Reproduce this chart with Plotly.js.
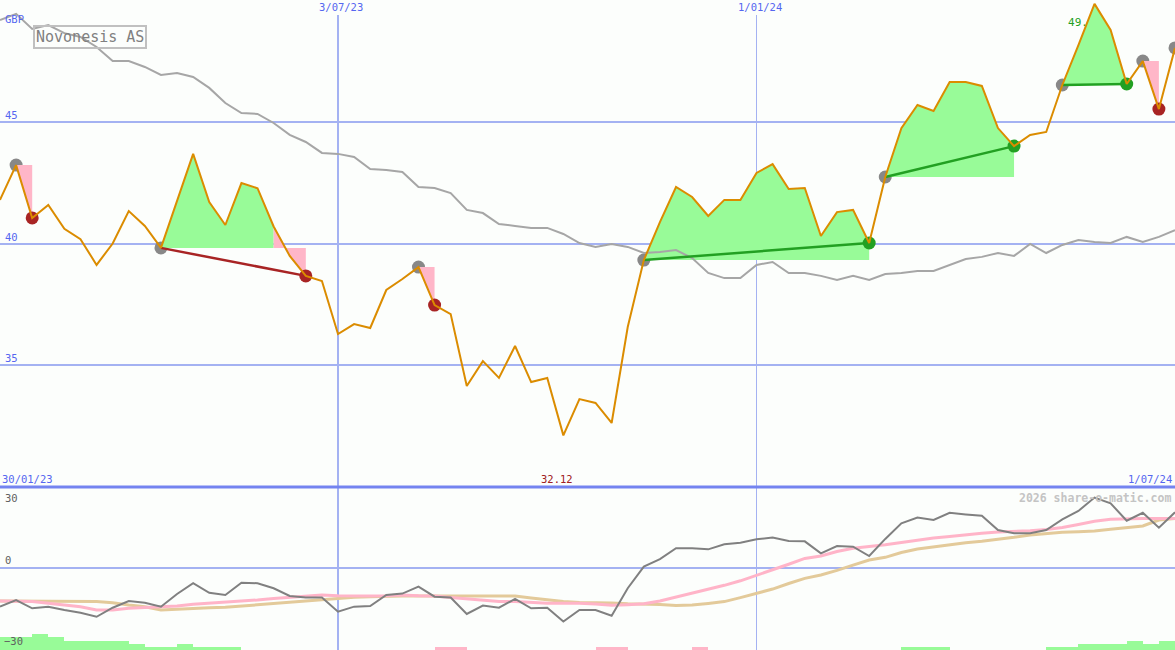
<!DOCTYPE html>
<html>
<head>
<meta charset="utf-8">
<script src="https://cdn.plot.ly/plotly-3.0.1.min.js"></script>
<style>html,body{margin:0;padding:0;background:#FCFEFC;}#chart{width:1175px;height:650px;}</style>
</head>
<body>
<div id="chart"></div>
<script>
// ---- data ----
const dates = [
'2023-02-06','2023-02-13','2023-02-20','2023-02-27','2023-03-06','2023-03-13','2023-03-20','2023-03-27',
'2023-04-03','2023-04-10','2023-04-17','2023-04-24','2023-05-01','2023-05-08','2023-05-15','2023-05-22',
'2023-05-29','2023-06-05','2023-06-12','2023-06-19','2023-06-26','2023-07-03','2023-07-10','2023-07-17',
'2023-07-24','2023-07-31','2023-08-07','2023-08-14','2023-08-21','2023-08-28','2023-09-04','2023-09-11',
'2023-09-18','2023-09-25','2023-10-02','2023-10-09','2023-10-16','2023-10-23','2023-10-30','2023-11-06',
'2023-11-13','2023-11-20','2023-11-27','2023-12-04','2023-12-11','2023-12-18','2023-12-25','2024-01-01',
'2024-01-08','2024-01-15','2024-01-22','2024-01-29','2024-02-05','2024-02-12','2024-02-19','2024-02-26',
'2024-03-04','2024-03-11','2024-03-18','2024-03-25','2024-04-01','2024-04-08','2024-04-15','2024-04-22',
'2024-04-29','2024-05-06','2024-05-13','2024-05-20','2024-05-27','2024-06-03','2024-06-10','2024-06-17',
'2024-06-24','2024-07-01'];

const price = [
41.79,43.22,41.05,41.58,40.60,40.18,39.12,40.00,41.33,40.72,
39.82,41.75,43.68,41.70,40.76,42.48,42.27,40.70,39.49,38.67,
38.46,36.28,36.69,36.53,38.09,38.54,39.03,37.47,37.10,34.15,
35.17,34.48,35.79,34.31,34.48,32.12,33.61,33.45,32.63,36.57,
39.32,40.88,42.32,41.91,41.13,41.79,41.79,42.90,43.26,42.24,
42.28,40.31,41.29,41.38,40.02,42.73,44.74,45.69,45.44,46.63,
46.63,46.47,44.74,44.00,44.46,44.58,46.51,48.15,49.84,48.77,
46.55,47.49,45.52,48.03];

const movingAvg = [
49.18,49.43,48.81,48.97,48.64,48.48,48.07,47.49,47.49,47.25,
46.92,47.00,46.84,46.39,45.77,45.36,45.32,44.95,44.46,44.17,
43.72,43.68,43.55,43.06,43.02,42.94,42.32,42.28,42.07,41.38,
41.25,40.80,40.72,40.64,40.64,40.39,40.02,39.86,39.98,39.86,
39.61,39.65,39.73,39.40,38.79,38.58,38.58,39.12,39.24,38.79,
38.79,38.67,38.50,38.67,38.50,38.75,38.79,38.87,38.87,39.12,
39.36,39.45,39.61,39.49,39.98,39.61,39.94,40.14,40.06,40.02,
40.27,40.06,40.27,40.55];

const oscMain = [
-14.5,-12.0,-15.1,-14.5,-15.75,-16.8,-18.3,-14.9,-12.4,-13.0,
-14.5,-9.75,-5.7,-9.3,-10.1,-5.5,-5.7,-7.6,-10.5,-11.1,
-11.1,-16.4,-14.5,-14.25,-10.1,-9.6,-7.0,-10.75,-11.1,-17.25,
-14.1,-14.9,-11.6,-15.1,-14.9,-20.1,-15.75,-15.75,-17.9,-7.6,
0.5,3.3,7.4,7.4,7.0,8.9,9.5,10.75,11.4,10.1,
10.0,5.5,8.25,8.0,4.5,10.9,16.75,18.9,18.0,20.7,
20.1,19.6,14.25,13.0,13.0,14.25,18.25,21.4,26.4,24.25,
17.75,20.7,15.1,20.9];

const oscFast = [
-12.4,-12.5,-12.6,-13.2,-13.9,-14.5,-15.75,-15.75,-15.1,-14.75,
-14.5,-14.25,-13.6,-13.2,-13.0,-12.6,-12.0,-11.4,-11.0,-10.5,
-10.1,-10.4,-10.5,-10.5,-10.4,-10.1,-10.4,-10.5,-11.1,-11.6,
-12.0,-12.6,-12.6,-12.9,-13.2,-13.2,-13.2,-13.5,-14.0,-13.75,
-13.4,-12.4,-10.95,-9.6,-8.1,-6.5,-4.8,-2.8,-0.75,1.4,
3.6,4.5,6.2,7.4,8.1,8.7,9.6,10.5,11.25,11.8,
12.5,13.0,13.5,13.65,14.0,14.4,15.2,16.3,17.5,18.3,
18.5,18.6,18.6,18.6];

const oscSlow = [
-12.4,-12.4,-12.4,-12.4,-12.4,-12.4,-12.6,-13.0,-13.9,-14.5,
-15.75,-15.5,-15.1,-14.9,-14.75,-14.25,-13.9,-13.25,-12.9,-12.4,
-11.75,-11.4,-11.0,-10.75,-10.5,-10.5,-10.5,-10.5,-10.5,-10.5,
-10.5,-10.5,-10.5,-11.25,-11.9,-12.6,-12.9,-12.9,-13.1,-13.4,
-13.5,-13.7,-14.1,-13.9,-13.3,-12.6,-11.1,-9.4,-7.9,-5.8,
-3.9,-2.6,-0.9,1.1,3.0,4.0,5.8,7.1,7.9,8.6,
9.5,10.0,10.7,11.5,12.4,13.0,13.4,13.6,13.9,14.5,
15.1,15.75,18.0,18.6];

const barVals = [
4,4,5,4,3,3,3,3,2,1,
1,2,1,1,1,0,0,0,0,0,
0,0,0,0,0,0,0,-1,-1,0,
0,0,0,0,0,0,0,-1,-1,0,
0,0,0,-1,0,0,0,0,0,0,
0,0,0,0,0,0,1,1,1,0,
0,0,0,0,0,1,1,2,2,2,
3,2,3,0];

const tradeEntry = [1, 10, 26, 40, 55, 66, 71, 73];
const tradeExit  = [2, 19, 27, 54, 63, 70, 72, null];

const gridDates  = ['2023-07-03', '2024-01-01'];
const gridDateLabels = ['3/07/23', '1/01/24'];
const priceTicks = [35, 40, 45];
const startLabel = '30/01/23';
const endLabel = '1/07/24';
const stockName = 'Novonesis AS';
const currency = 'GBP';
const credit = '2026 share-o-matic.com';

// ---- styles ----
const MONO = 'DejaVu Sans Mono, monospace';
const BLUE_TXT = '#5566F0';
const GRID = '#A4B2F2';
const GREEN_FILL = '#98FB98';
const PINK_FILL = '#FFB6C8';
const GREEN_DOT = '#22A022';
const RED_DOT = '#A82424';
const ORANGE = '#DB8C00';

const traces = [];

// histogram bars in the lower panel
traces.push({
  type: 'bar', x: dates, y: barVals.map(v => Math.abs(v)),
  xaxis: 'x', yaxis: 'y3', offset: 0, width: barVals.map(() => 7 * 86400000),
  marker: {color: barVals.map(v => v >= 0 ? GREEN_FILL : PINK_FILL), line: {width: 0}},
  hoverinfo: 'skip'
});

// oscillator lines
traces.push({x: dates, y: oscSlow, xaxis: 'x', yaxis: 'y2', mode: 'lines', line: {color: '#E3CA9A', width: 3}, hoverinfo: 'skip'});
traces.push({x: dates, y: oscFast, xaxis: 'x', yaxis: 'y2', mode: 'lines', line: {color: '#FFB4C8', width: 3}, hoverinfo: 'skip'});
traces.push({x: dates, y: oscMain, xaxis: 'x', yaxis: 'y2', mode: 'lines', line: {color: '#808080', width: 2}, hoverinfo: 'skip'});

// entry markers (grey)
traces.push({x: tradeEntry.map(i => dates[i]), y: tradeEntry.map(i => price[i]), mode: 'markers',
  marker: {color: '#888888', size: 13}, hoverinfo: 'skip'});

// max label (under fills)
let iMax = 0, iMin = 0;
price.forEach((v, i) => { if (v > price[iMax]) iMax = i; if (v < price[iMin]) iMin = i; });
traces.push({x: [dates[iMax]], y: [price[iMax]], mode: 'text', text: ['<br>' + price[iMax].toFixed(1)],
  textposition: 'bottom left', textfont: {family: MONO, size: 11, color: GREEN_DOT}, hoverinfo: 'skip'});

// trade fills
tradeEntry.forEach((e, k) => {
  const x = tradeExit[k];
  if (x == null) return;
  const lvl = price[e];
  let a = e;
  while (a < x) {
    const up = price[a + 1] >= lvl;
    let b = a + 1;
    while (b < x && (price[b + 1] >= lvl) === up) b++;
    const xs = [dates[a], dates[b]], ys = [lvl, lvl];
    for (let j = b; j >= a; j--) { xs.push(dates[j]); ys.push(price[j]); }
    traces.push({x: xs, y: ys, mode: 'lines', fill: 'toself', fillcolor: up ? GREEN_FILL : PINK_FILL,
      line: {width: 0, color: up ? GREEN_FILL : PINK_FILL}, hoverinfo: 'skip'});
    a = b;
  }
});

// moving average (over fills)
traces.push({x: dates, y: movingAvg, mode: 'lines', line: {color: '#A6A6A6', width: 2}, hoverinfo: 'skip'});

// connecting lines
tradeEntry.forEach((e, k) => {
  const x = tradeExit[k];
  if (x == null || x - e < 2) return;
  const win = price[x] >= price[e];
  traces.push({x: [dates[e], dates[x]], y: [price[e], price[x]], mode: 'lines',
    line: {color: win ? GREEN_DOT : RED_DOT, width: 2.5}, hoverinfo: 'skip'});
});

// exit markers
const exits = tradeEntry.map((e, k) => [e, tradeExit[k]]).filter(p => p[1] != null);
traces.push({x: exits.map(p => dates[p[1]]), y: exits.map(p => price[p[1]]), mode: 'markers',
  marker: {size: 13, color: exits.map(p => price[p[1]] >= price[p[0]] ? GREEN_DOT : RED_DOT)}, hoverinfo: 'skip'});

// price line
traces.push({x: dates, y: price, mode: 'lines', line: {color: ORANGE, width: 2}, hoverinfo: 'skip'});

// ---- layout ----
const splitFrac = 163 / 650;
const annotations = [];
const lab = (o) => annotations.push(Object.assign({showarrow: false, font: {family: MONO, size: 10.5, color: BLUE_TXT}}, o));

priceTicks.forEach(v => lab({text: String(v), xref: 'paper', x: 0, xanchor: 'left', xshift: 3, yref: 'y', y: v, yanchor: 'bottom', yshift: -1}));
lab({text: currency, xref: 'paper', x: 0, xanchor: 'left', xshift: 3, yref: 'paper', y: 1, yanchor: 'top', yshift: -11});
gridDates.forEach((d, i) => lab({text: gridDateLabels[i], xref: 'x', x: d, xanchor: 'center', xshift: 3, yref: 'paper', y: 1, yanchor: 'top', yshift: 1}));
lab({text: startLabel, xref: 'paper', x: 0, xanchor: 'left', xshift: 0, yref: 'y', y: 30, yanchor: 'bottom', yshift: 0});
lab({text: endLabel, xref: 'paper', x: 1, xanchor: 'right', xshift: -1, yref: 'y', y: 30, yanchor: 'bottom', yshift: 0});
lab({text: price[iMin].toFixed(2), xref: 'x', x: dates[iMin], xanchor: 'center', xshift: -6, yref: 'y', y: 30, yanchor: 'bottom', yshift: 0, font: {family: MONO, size: 10.5, color: '#A02020'}});
// oscillator labels
lab({text: '30', xref: 'paper', x: 0, xanchor: 'left', xshift: 3, yref: 'y2', y: 30, yanchor: 'top', yshift: -2, font: {family: MONO, size: 10.5, color: '#606060'}});
lab({text: '0', xref: 'paper', x: 0, xanchor: 'left', xshift: 3, yref: 'y2', y: 0, yanchor: 'bottom', yshift: 0, font: {family: MONO, size: 10.5, color: '#606060'}});
lab({text: '−30', xref: 'paper', x: 0, xanchor: 'left', xshift: 2, yref: 'paper', y: 0, yanchor: 'bottom', yshift: 1, font: {family: MONO, size: 10.5, color: '#606060'}});
// credit
lab({text: '<b>' + credit + '</b>', xref: 'paper', x: 1, xanchor: 'right', xshift: -2, yref: 'y2', y: 30, yanchor: 'top', yshift: -1, font: {family: MONO, size: 11.5, color: '#C4C4C4'}});
// title box
annotations.push({text: stockName, showarrow: false, xref: 'paper', x: 33 / 1175, xanchor: 'left', yref: 'paper', y: 1 - 25 / 650, yanchor: 'top',
  bordercolor: '#C0C0C0', borderwidth: 2, borderpad: 1, font: {family: MONO, size: 15, color: '#808080'}});

const shapes = [];
gridDates.forEach((d, i) => shapes.push({type: 'line', layer: 'below', xref: 'x', x0: d, x1: d, yref: 'paper', y0: 0, y1: 1 - 15 / 650,
  line: {color: GRID, width: i === 0 ? 2 : 1}}));
shapes.push({type: 'line', layer: 'below', xref: 'paper', x0: 0, x1: 1, yref: 'paper', y0: splitFrac, y1: splitFrac, line: {color: '#7484F0', width: 3}});

const layout = {
  width: 1175, height: 650,
  margin: {l: 0, r: 0, t: 0, b: 0, pad: 0},
  paper_bgcolor: '#FCFEFC', plot_bgcolor: '#FCFEFC',
  showlegend: false, hovermode: false, bargap: 0,
  xaxis: {type: 'date', range: [dates[0], dates[dates.length - 1]], showgrid: false, zeroline: false, showticklabels: false, showline: false, ticks: '', anchor: 'y2'},
  yaxis: {domain: [splitFrac, 1], range: [30, 50], tickvals: priceTicks, showgrid: true, gridcolor: GRID, gridwidth: 2,
    zeroline: false, showticklabels: false, showline: false, ticks: '', anchor: 'x'},
  yaxis2: {domain: [0, splitFrac], range: [-30.75, 30.375], tickvals: [0], showgrid: true, gridcolor: GRID, gridwidth: 2,
    zeroline: false, showticklabels: false, showline: false, ticks: '', anchor: 'x'},
  yaxis3: {overlaying: 'y2', range: [0, 52], visible: false, anchor: 'x'},
  annotations: annotations,
  shapes: shapes
};

Plotly.newPlot('chart', traces, layout, {staticPlot: true, displayModeBar: false});
</script>
</body>
</html>
